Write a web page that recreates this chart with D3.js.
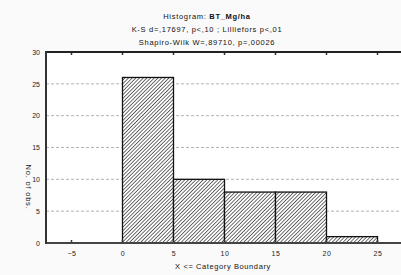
<!DOCTYPE html>
<html>
<head>
<meta charset="utf-8">
<script src="https://cdn.jsdelivr.net/npm/d3@7"></script>
<style>
  body { margin: 0; background: #fafafa; }
  svg { display: block; font-family: "Liberation Sans", Arial, sans-serif; }
</style>
</head>
<body>
<svg id="chart" width="401" height="275"></svg>
<script>
// histogram data (upper category boundaries and counts)
var binStarts = [0, 5, 10, 15, 20];
var binWidth = 5;
var counts = [26, 10, 8, 8, 1];
var xTicks = [-5, 0, 5, 10, 15, 20, 25];
var yTicks = [0, 5, 10, 15, 20, 25, 30];
var titleLines = [
  ["Histogram: ", "BT_Mg/ha"],
  ["K-S d=,17697, p<,10 ; Lilliefors p<,01"],
  ["Shapiro-Wilk W=,89710, p=,00026"]
];

var svg = d3.select("#chart");
var plotLeft = 46, plotRight = 403, plotTop = 52, plotBottom = 243;

var x = d3.scaleLinear().domain([-7.5, 27.5]).range([plotLeft, plotRight]);
var y = d3.scaleLinear().domain([0, 30]).range([plotBottom, plotTop]);

// hatch pattern for bars
var defs = svg.append("defs");
var pat = defs.append("pattern")
  .attr("id", "hatch")
  .attr("patternUnits", "userSpaceOnUse")
  .attr("width", 2.6)
  .attr("height", 2.6)
  .attr("patternTransform", "rotate(45)");
pat.append("rect").attr("width", 2.6).attr("height", 2.6).attr("fill", "#fff");
pat.append("line")
  .attr("x1", 0).attr("x2", 0).attr("y1", 0).attr("y2", 2.6)
  .attr("stroke", "#4a4a4a")
  .attr("stroke-width", 1.6);

// plot background
svg.append("rect")
  .attr("x", plotLeft).attr("y", plotTop)
  .attr("width", plotRight - plotLeft).attr("height", plotBottom - plotTop)
  .attr("fill", "#fff");

// dashed grid
svg.append("g")
  .selectAll("line")
  .data(yTicks.filter(function (d) { return d > 0 && d < 30; }))
  .enter()
  .append("line")
  .attr("x1", plotLeft).attr("x2", plotRight)
  .attr("y1", function (d) { return y(d); })
  .attr("y2", function (d) { return y(d); })
  .attr("stroke", "#b4b4b4")
  .attr("stroke-dasharray", "3,2")
  .attr("stroke-width", 1);

// bars
svg.append("g")
  .selectAll("rect")
  .data(counts)
  .enter()
  .append("rect")
  .attr("x", function (d, i) { return x(binStarts[i]); })
  .attr("y", function (d) { return y(d); })
  .attr("width", function (d, i) { return x(binStarts[i] + binWidth) - x(binStarts[i]); })
  .attr("height", function (d) { return plotBottom - y(d); })
  .attr("fill", "url(#hatch)")
  .attr("stroke", "#111")
  .attr("stroke-width", 1.3);

// axes
var yAxis = d3.axisLeft(y).tickValues(yTicks).tickSize(0).tickPadding(6);
var gy = svg.append("g").attr("transform", "translate(" + plotLeft + ",0)").call(yAxis);
gy.select(".domain").remove();
gy.selectAll("text").attr("font-size", 7).attr("fill", "#222").attr("font-family", "Liberation Sans, Arial");

var xAxis = d3.axisBottom(x).tickValues(xTicks).tickSize(0).tickPadding(8);
var gx = svg.append("g").attr("transform", "translate(0," + plotBottom + ")").call(xAxis);
gx.select(".domain").remove();
gx.selectAll("text").attr("font-size", 7).attr("fill", "#222").attr("font-family", "Liberation Sans, Arial")
  .attr("letter-spacing", 0.6);

// small inward tick marks on top and bottom
svg.append("g").selectAll("line").data(xTicks).enter().append("line")
  .attr("x1", function (d) { return x(d); }).attr("x2", function (d) { return x(d); })
  .attr("y1", plotTop).attr("y2", plotTop + 3)
  .attr("stroke", "#333").attr("stroke-width", 1.5);
svg.append("g").selectAll("line").data(xTicks).enter().append("line")
  .attr("x1", function (d) { return x(d); }).attr("x2", function (d) { return x(d); })
  .attr("y1", plotBottom).attr("y2", plotBottom - 3)
  .attr("stroke", "#333").attr("stroke-width", 1.5);

// frame lines
svg.append("line").attr("x1", plotLeft).attr("x2", plotRight).attr("y1", plotTop).attr("y2", plotTop)
  .attr("stroke", "#222").attr("stroke-width", 2);
svg.append("line").attr("x1", plotLeft).attr("x2", plotRight).attr("y1", plotBottom).attr("y2", plotBottom)
  .attr("stroke", "#444").attr("stroke-width", 2);
svg.append("line").attr("x1", plotLeft).attr("x2", plotLeft).attr("y1", plotTop - 1).attr("y2", plotBottom + 1)
  .attr("stroke", "#333").attr("stroke-width", 2);

// titles
var tt = svg.append("g").attr("font-size", 7.5).attr("fill", "#111").attr("letter-spacing", 0.7)
  .attr("text-anchor", "middle");
titleLines.forEach(function (parts, i) {
  var t = tt.append("text").attr("x", 207).attr("y", 19 + i * 13);
  parts.forEach(function (p, j) {
    t.append("tspan").attr("font-weight", j === 1 ? "bold" : "normal").text(p);
  });
});

// axis titles
svg.append("text")
  .attr("x", 223).attr("y", 269)
  .attr("text-anchor", "middle")
  .attr("font-size", 7.5).attr("letter-spacing", 0.6).attr("fill", "#111")
  .text("X <= Category Boundary");

svg.append("text")
  .attr("transform", "translate(26,187) rotate(90)")
  .attr("text-anchor", "middle")
  .attr("font-size", 7.5).attr("letter-spacing", 0.8).attr("fill", "#111")
  .text("No. of obs.");
</script>
</body>
</html>
